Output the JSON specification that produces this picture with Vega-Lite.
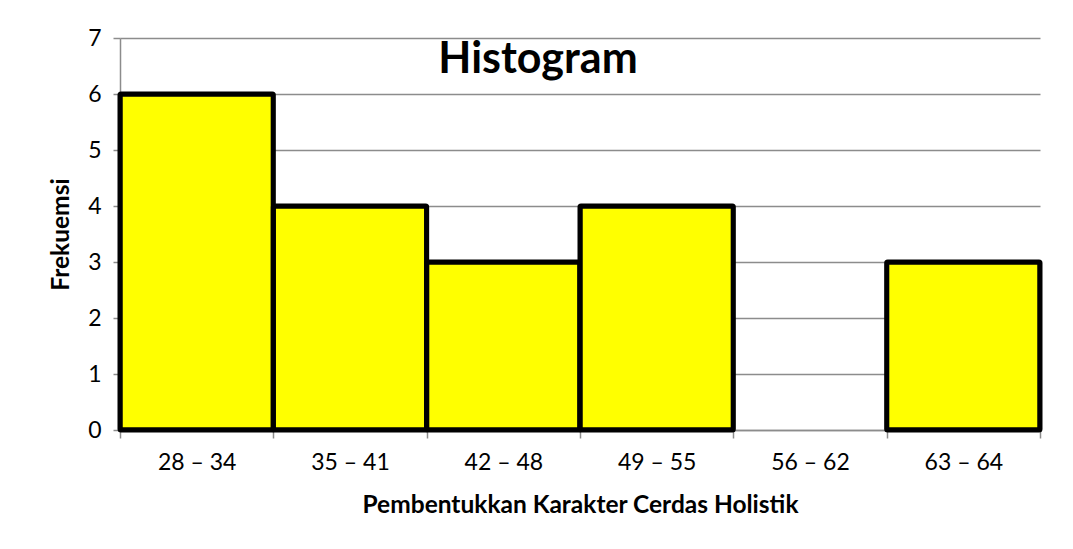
{
  "$schema": "https://vega.github.io/schema/vega-lite/v6.json",
  "width": 920,
  "height": 392,
  "autosize": "none",
  "padding": {"left": 120, "top": 38, "right": 33, "bottom": 119},
  "background": "white",
  "title": {
    "text": "Histogram",
    "font": "Lato",
    "fontSize": 43,
    "fontWeight": "bold",
    "color": "black",
    "anchor": "middle",
    "baseline": "alphabetic",
    "offset": -35,
    "dy": 54,
    "dx": -42
  },
  "data": {
    "values": [
      {"kelas": "28 – 34", "frekuensi": 6},
      {"kelas": "35 – 41", "frekuensi": 4},
      {"kelas": "42 – 48", "frekuensi": 3},
      {"kelas": "49 – 55", "frekuensi": 4},
      {"kelas": "56 – 62", "frekuensi": 0},
      {"kelas": "63 – 64", "frekuensi": 3}
    ]
  },
  "transform": [{"filter": "datum.frekuensi > 0"}],
  "mark": {"type": "bar", "fill": "#FFFF00", "stroke": "black", "strokeWidth": 5, "cornerRadius": 1, "strokeJoin": "round"},
  "encoding": {
    "x": {
      "field": "kelas",
      "type": "nominal",
      "sort": null,
      "scale": {"domain": ["28 – 34", "35 – 41", "42 – 48", "49 – 55", "56 – 62", "63 – 64"], "paddingInner": 0, "paddingOuter": 0},
      "axis": {
        "title": "Pembentukkan Karakter Cerdas Holistik",
        "labelAngle": 0,
        "tickBand": "extent",
        "tickSize": 8,
        "labelPadding": 13,
        "titlePadding": 19
      }
    },
    "y": {
      "field": "frekuensi",
      "type": "quantitative",
      "scale": {"domain": [0, 7], "nice": false},
      "axis": {
        "title": "Frekuemsi",
        "values": [0, 1, 2, 3, 4, 5, 6, 7],
        "grid": true,
        "tickSize": 7,
        "labelPadding": 12,
        "titlePadding": 14
      }
    }
  },
  "config": {
    "view": {"stroke": null},
    "axis": {
      "labelFont": "Lato",
      "labelFontSize": 23,
      "labelColor": "black",
      "titleFont": "Lato",
      "titleFontSize": 24.5,
      "titleFontWeight": "bold",
      "titleColor": "black",
      "domainColor": "#8c8c8c",
      "tickColor": "#8c8c8c",
      "gridColor": "#8c8c8c",
      "domainWidth": 1.5,
      "gridWidth": 1.5,
      "tickWidth": 1.5
    }
  }
}
